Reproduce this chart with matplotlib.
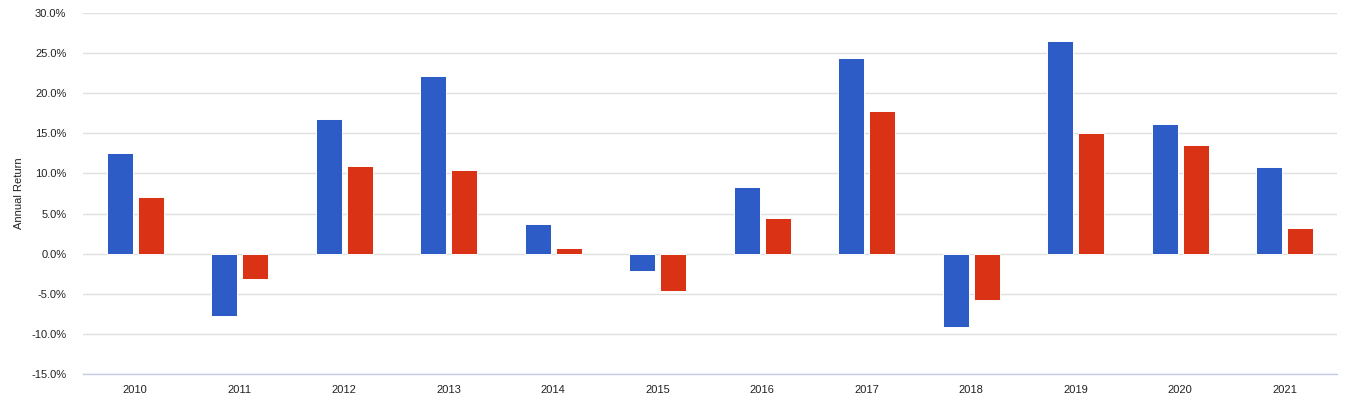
#!/usr/bin/env python3
import numpy as np
import matplotlib
matplotlib.use("Agg")
import matplotlib.pyplot as plt
from matplotlib.ticker import FuncFormatter

years = ["2010", "2011", "2012", "2013", "2014", "2015",
         "2016", "2017", "2018", "2019", "2020", "2021"]
blue_returns = [12.6, -7.8, 16.75, 22.2, 3.65, -2.2, 8.27, 24.35, -9.2, 26.45, 16.2, 10.85]
red_returns = [7.1, -3.2, 10.9, 10.4, 0.65, -4.7, 4.5, 17.75, -5.8, 15.1, 13.5, 3.2]
y_ticks = [-15, -10, -5, 0, 5, 10, 15, 20, 25, 30]

plt.rcParams['font.family'] = ['Liberation Sans', 'DejaVu Sans']

fig = plt.figure(figsize=(13.53, 3.99), dpi=100)
ax = fig.add_axes([83 / 1353, 1 - 374 / 399, (1337 - 83) / 1353, (374 - 13) / 399])

x = np.arange(len(years))
w = 0.25
ax.bar(x - 0.15, blue_returns, w, color="#2E5CC6", edgecolor="white", linewidth=0.7, zorder=3)
ax.bar(x + 0.15, red_returns, w, color="#D93214", edgecolor="white", linewidth=0.7, zorder=3)

ax.set_xlim(-0.5, len(years) - 0.5)
ax.set_ylim(-15, 30)
ax.set_yticks(y_ticks)
ax.yaxis.set_major_formatter(FuncFormatter(lambda v, p: f"{v:.1f}%"))
ax.set_xticks(x)
ax.set_xticklabels(years)

ax.grid(axis="y", color="#E0E0E0", linewidth=1, zorder=0)
for s in ["top", "right", "left"]:
    ax.spines[s].set_visible(False)
ax.spines["bottom"].set_color("#C3CDE6")
ax.spines["bottom"].set_linewidth(1)
ax.spines["bottom"].set_zorder(4)

ax.tick_params(axis="both", length=0, labelsize=8, labelcolor="#222222")
ax.tick_params(axis="y", pad=12)
ax.tick_params(axis="x", pad=8)
ax.set_ylabel("Annual Return", fontsize=8, color="#222222", labelpad=5)

fig.savefig("out.png", dpi=100)
plt.close(fig)
